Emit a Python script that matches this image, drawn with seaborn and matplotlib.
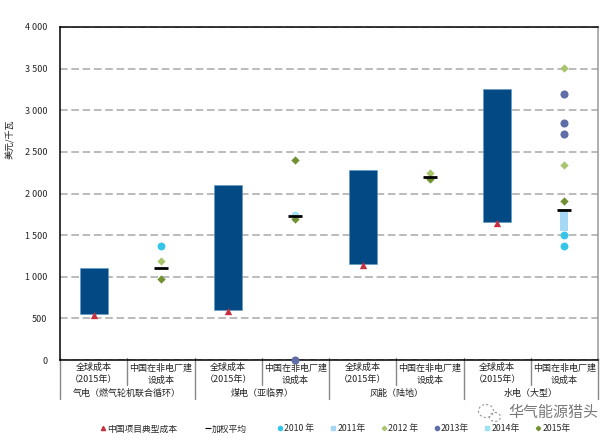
import matplotlib
matplotlib.use("Agg")
import matplotlib.pyplot as plt
from matplotlib.lines import Line2D
from matplotlib.patches import Ellipse
import pandas as pd
import seaborn as sns

sns.set_style("white")
plt.rcParams['font.family'] = ['Noto Sans CJK SC', 'DejaVu Sans']

categories = ["gas_global", "gas_china", "coal_global", "coal_china",
              "wind_global", "wind_china", "hydro_global", "hydro_china"]
cat_labels = ["全球成本\n（2015年）", "中国在非电厂建\n设成本"] * 4
groups = ["气电（燃气轮机联合循环）", "煤电（亚临界）", "风能（陆地）", "水电（大型）"]

bar_cats = ["gas_global", "coal_global", "wind_global", "hydro_global"]
bar_low = [550, 600, 1150, 1660]
bar_high = [1100, 2100, 2280, 3250]
typical = [540, 590, 1140, 1650]

avg_cats = ["gas_china", "coal_china", "wind_china", "hydro_china"]
avg_vals = [1100, 1730, 2200, 1800]

cats_2010 = ["gas_china", "hydro_china", "hydro_china"]
vals_2010 = [1370, 1500, 1370]
cats_2011 = ["hydro_china", "hydro_china", "hydro_china"]
vals_2011 = [1750, 1680, 1600]
cats_2012 = ["gas_china", "wind_china", "hydro_china", "hydro_china"]
vals_2012 = [1190, 2250, 3510, 2340]
cats_2013 = ["coal_china", "hydro_china", "hydro_china", "hydro_china"]
vals_2013 = [0, 3200, 2850, 2720]
cats_2014 = ["coal_china"]
vals_2014 = [1740]
cats_2015 = ["gas_china", "coal_china", "coal_china", "wind_china", "hydro_china"]
vals_2015 = [970, 2400, 1690, 2170, 1910]

y_ticks = [0, 500, 1000, 1500, 2000, 2500, 3000, 3500, 4000]


def pos(names):
    return [categories.index(n) for n in names]


fig = plt.figure(figsize=(6.09, 4.42), dpi=100, facecolor="white")
ax = fig.add_axes([60 / 609, 1 - 360 / 442, 538 / 609, 333 / 442])

ax.set_axisbelow(True)
ax.yaxis.grid(True, color="#a8a8a8", linestyle=(0, (5, 2.4)), linewidth=1.1)

bars = pd.DataFrame({"cat": bar_cats,
                     "height": [h - l for h, l in zip(bar_high, bar_low)],
                     "low": bar_low})
sns.barplot(data=bars, x=pos(bar_cats), y="height", bottom=bars["low"].values,
            native_scale=True, color="#034a84", saturation=1, width=0.21,
            edgecolor="#5a9ac8", linewidth=0.4, ax=ax, zorder=2)

series = [
    (cats_2011, vals_2011, "s", "#a5d8f5", 30),
    (cats_2010, vals_2010, "o", "#35c5e8", 32),
    (cats_2012, vals_2012, "D", "#a9c46c", 18),
    (cats_2013, vals_2013, "o", "#5f6ea6", 34),
    (cats_2014, vals_2014, "o", "#9fe3f0", 32),
    (cats_2015, vals_2015, "D", "#6f9132", 18),
]
for c, v, m, col, s in series:
    sns.scatterplot(x=pos(c), y=v, marker=m, color=col, s=s, linewidth=0,
                    ax=ax, zorder=4, clip_on=False)

sns.scatterplot(x=pos(bar_cats), y=typical, marker="^", color="#c8303f", s=28,
                linewidth=0, ax=ax, zorder=5)
sns.scatterplot(x=pos(avg_cats), y=avg_vals, marker="_", color="black", s=100,
                linewidth=2.0, ax=ax, zorder=6)

ax.set_xlim(-0.5, 7.5)
ax.set_ylim(0, 4000)
ax.set_yticks(y_ticks)
ax.set_yticklabels([f"{t:,}".replace(",", " ") for t in y_ticks], fontsize=6.5)
ax.set_xticks([])
ax.set_xlabel("")
ax.set_ylabel("")
ax.tick_params(axis="y", length=0, pad=9)
fig.text(11 / 609, 1 - 139 / 442, "美元/千瓦", rotation=90, fontsize=6.5,
         ha="center", va="center", color="#222222")

for name in ["left", "top", "bottom"]:
    ax.spines[name].set_color("black")
    ax.spines[name].set_linewidth(1.1)
ax.spines["right"].set_color("#999999")
ax.spines["right"].set_linewidth(1.1)

trans = ax.get_xaxis_transform()
for i, lab in enumerate(cat_labels):
    ax.text(i, -0.0095, lab, transform=trans, ha="center", va="top",
            fontsize=6.5, linespacing=1.45, color="#222222")
for i, g in enumerate(groups):
    ax.text(i * 2 + 0.5, -0.0855, g, transform=trans, ha="center", va="top",
            fontsize=6.5, color="#222222")
for b in range(0, 9):
    x = b - 0.5
    lower = -0.117 if b % 2 == 0 else -0.075
    if b == 8:
        lower = -0.117
    ax.plot([x, x], [0.005, lower], transform=trans, clip_on=False,
            color="#888888", linewidth=1.0, zorder=1)

handles = [
    Line2D([], [], linestyle="", marker="^", color="#c8303f", markersize=3),
    Line2D([], [], linestyle="", marker="_", color="black", markersize=4, markeredgewidth=0.8),
    Line2D([], [], linestyle="", marker="o", color="#35c5e8", markersize=3),
    Line2D([], [], linestyle="", marker="s", color="#a5d8f5", markersize=3),
    Line2D([], [], linestyle="", marker="D", color="#a9c46c", markersize=2.2),
    Line2D([], [], linestyle="", marker="o", color="#5f6ea6", markersize=3),
    Line2D([], [], linestyle="", marker="s", color="#9fe3f0", markersize=3),
    Line2D([], [], linestyle="", marker="D", color="#6f9132", markersize=2.2),
]
labels = ["中国项目典型成本", "加权平均", "2010 年", "2011年", "2012 年", "2013年", "2014年", "2015年"]
leg_kw = dict(fontsize=6.3, frameon=False, handlelength=0.7, handletextpad=0.15, borderpad=0, borderaxespad=0)
fig.legend(handles[:2], labels[:2], loc="center left", bbox_to_anchor=(100 / 609, 1 - 429 / 442),
           ncols=2, columnspacing=3.1, **leg_kw)
fig.legend(handles[2:], labels[2:], loc="center left", bbox_to_anchor=(277 / 609, 1 - 429 / 442),
           ncols=6, columnspacing=1.75, **leg_kw)

fig.text(508 / 609, 1 - 413 / 442, "华气能源猎头", fontsize=10.8, color="#777777",
         ha="left", va="center")
fa = fig.add_axes([0, 0, 1, 1], facecolor="none")
fa.set_xlim(0, 609)
fa.set_ylim(442, 0)
fa.axis("off")
fa.add_patch(Ellipse((486, 411), 15, 13, fill=False, edgecolor="#999999", linestyle=(0, (2, 2)), linewidth=0.8))
fa.add_patch(Ellipse((495, 417), 11, 9, fill=False, edgecolor="#999999", linestyle=(0, (2, 2)), linewidth=0.8))

fig.savefig("out.png", dpi=100)
